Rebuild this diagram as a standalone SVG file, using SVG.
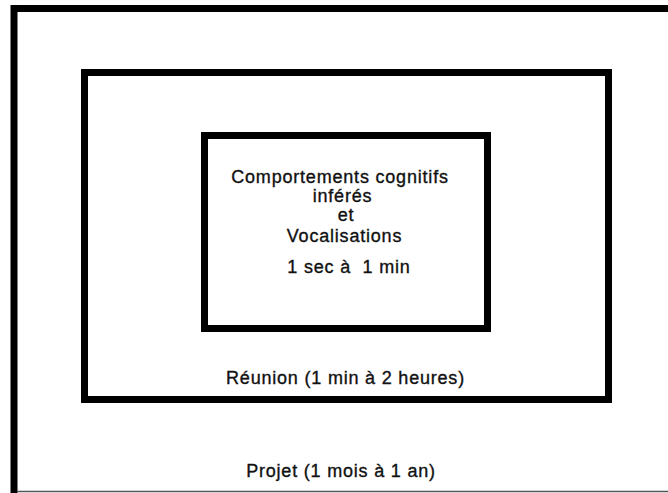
<svg xmlns="http://www.w3.org/2000/svg" width="668" height="493" viewBox="0 0 668 493">
  <style>
    .frame { fill: none; stroke: #000; stroke-width: 7; }
    .label { font-family: "Liberation Sans", Arial, sans-serif; font-size: 18px; fill: #111; stroke: #111; stroke-width: 0.35; text-anchor: middle; letter-spacing: 0.8px; }
  </style>
  <rect width="668" height="493" fill="#fff"/>

  <!-- Projet: outermost scope -->
  <g id="projet">
    <path class="frame" d="M14 493 V8.5 H668"/>
    <line x1="17" y1="491.5" x2="668" y2="491.5" stroke="#555" stroke-width="1.5"/>
    <text class="label" x="341" y="476.5">Projet (1 mois à 1 an)</text>
  </g>

  <!-- Réunion: middle scope -->
  <g id="reunion">
    <rect class="frame" x="84.5" y="72.5" width="524" height="327"/>
    <text class="label" x="345.5" y="383.5">Réunion (1 min à 2 heures)</text>
  </g>

  <!-- Inner scope: cognitive behaviours and vocalisations -->
  <g id="comportements">
    <rect class="frame" x="204.5" y="135.5" width="283" height="193"/>
    <text class="label" x="340" y="182.5">Comportements cognitifs</text>
    <text class="label" x="342.5" y="201.5">inférés</text>
    <text class="label" x="346" y="221">et</text>
    <text class="label" x="344.5" y="241.5">Vocalisations</text>
    <text class="label" x="349" y="272.5" xml:space="preserve">1 sec à  1 min</text>
  </g>
</svg>
